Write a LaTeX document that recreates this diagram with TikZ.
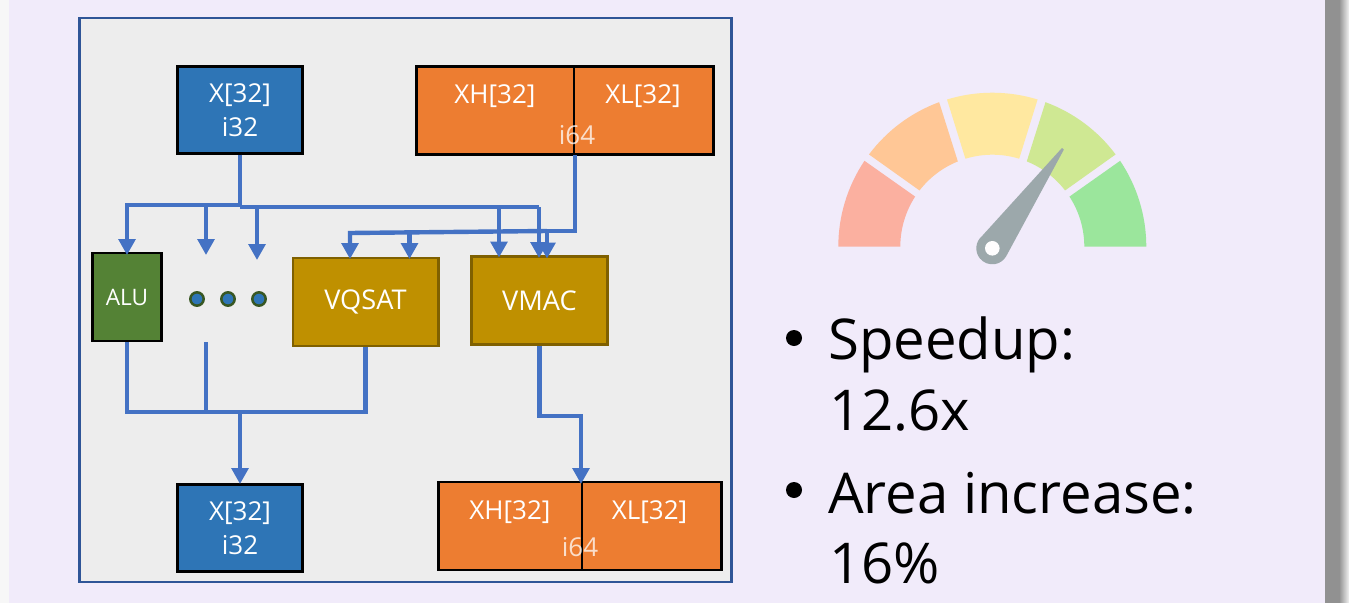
\documentclass[tikz,border=0pt]{standalone}
\usepackage{fontspec}
\setmainfont{Open Sans}
\usetikzlibrary{arrows.meta,calc}
\definecolor{bgc}{HTML}{F1EBFA}
\definecolor{panelc}{HTML}{EDEDED}
\definecolor{panelb}{HTML}{2F5597}
\definecolor{wire}{HTML}{4472C4}
\definecolor{bluec}{HTML}{2E75B6}
\definecolor{orangec}{HTML}{ED7D31}
\definecolor{greenc}{HTML}{548235}
\definecolor{dotb}{HTML}{385723}
\definecolor{goldc}{HTML}{BF9000}
\definecolor{goldb}{HTML}{7F6000}
\definecolor{segr}{HTML}{FBB0A0}
\definecolor{sego}{HTML}{FFC796}
\definecolor{segy}{HTML}{FFE8A0}
\definecolor{segl}{HTML}{CFE893}
\definecolor{segg}{HTML}{9BE69C}
\definecolor{needlec}{HTML}{9CA8AB}
\tikzset{
 box/.style={draw=black,line width=2pt,minimum width=#1,inner sep=0pt,align=center,text=white,font=\fontsize{19.5}{25.5}\selectfont},
 lab/.style={text=white,inner sep=0pt,font=\fontsize{19.5}{25.5}\selectfont},
 wirel/.style={draw=wire,line width=3.3pt},
 wirea/.style={wirel,-{Triangle[length=12pt,width=12.5pt]}},
 big/.style={anchor=west,inner sep=0pt,font=\fontsize{42.2}{52}\selectfont}
}
\newcommand{\gseg}[5]{\fill[#1] (#2:154) arc[start angle=#2,end angle=#3,radius=154] -- (#4:92) arc[start angle=#4,end angle=#5,radius=92] -- cycle;}
\newcommand{\low}[1]{\raisebox{-1.5pt}{#1}}
\newcommand{\lowb}[1]{\raisebox{-2.6pt}{#1}}
\begin{document}
\begin{tikzpicture}[x=0.75pt,y=-0.75pt]
\useasboundingbox (0,0) rectangle (1349,603);
\fill[white!97!black] (0,0) rectangle (1349,603);
\fill[bgc] (9,0) rectangle (1325,603);
\fill[black!43] (1325,0) rectangle (1339,603);
\shade[left color=black!43,right color=black!5] (1339,0) rectangle (1349,603);
\node[draw=panelb,line width=2.1pt,fill=panelc,minimum width=489pt,minimum height=423pt,inner sep=0pt] (panel) at (405.5,300) {};
% boxes
\node[box=94pt,fill=bluec,minimum height=65pt] (xa) at (240,110) {\low{X[32]}\\\low{i32}};
\node[box=223pt,fill=orangec,minimum height=66pt] (xb) at (565,110.5) {};
\draw[black,line width=2pt] (574,66) coordinate (d1) -- (xb.south -| d1);
\node[lab] (xh) at (495,96.5) {XH[32]};
\node[lab] (xl) at (643,96.5) {XL[32]};
\node[lab,opacity=.75] (i1) at (577,135) {i64};
\node[box=52pt,fill=greenc,minimum height=66pt,font=\fontsize{17}{20}\selectfont] (alu) at (127,297) {\lowb{ALU}};
\node[box=109pt,fill=goldc,draw=goldb,minimum height=66pt,font=\fontsize{20.4}{24}\selectfont] (vq) at (365.5,302) {\lowb{VQSAT}};
\node[box=102pt,fill=goldc,draw=goldb,minimum height=66pt,font=\fontsize{20.4}{24}\selectfont] (vm) at (539.5,300.5) {\low{VMAC}};
\node[box=94pt,fill=bluec,minimum height=65pt] (xc) at (240,528) {\low{X[32]}\\\low{i32}};
\node[box=212pt,fill=orangec,minimum height=66pt] (xd) at (580,526) {};
\draw[black,line width=2pt] (582,482) coordinate (d2) -- (xd.south -| d2);
\node[lab] (xh2) at (510,512) {XH[32]};
\node[lab] (xl2) at (649.5,512) {XL[32]};
\node[lab,opacity=.75] (i2) at (580,547) {i64};
% dots
\foreach \n/\x in {a/197,b/228,c/259}
  \node[circle,draw=dotb,line width=1.9pt,fill=bluec,minimum size=10pt,inner sep=0pt] (dot\n) at (\x,299) {};
% connectors top
\coordinate (s1) at (240,205);
\coordinate (s2) at (240,207);
\coordinate (e1) at (127,255);
\coordinate (e2) at (206,255);
\coordinate (e3) at (257,260);
\draw[wirel] (xa.south) -- (s2);
\draw[wirea] (s1) -| (e1);
\draw[wirea] (206,205) coordinate (b2) -- (e2);
\draw[wirel] (s2) -- (539,207) coordinate (r1);
\draw[wirea] (257,207) coordinate (b3) -- (e3);
\draw[wirea] (499,207) coordinate (b4) -- (499,257.5) coordinate (e4);
\draw[wirea] (r1) -- (539,258) coordinate (e5);
% XL line
\coordinate (t1) at (575,155);
\draw[wirel] (t1) -- (575,231) -- (547,231) coordinate (k1);
\draw[wirea] (k1) -- (547,258.5);
\draw[wirea] (k1) -- (350,233) -- (350,259);
\draw[wirea] (409.5,232.5) -- (409.5,259);
% bottom
\coordinate (j1) at (206,412);
\coordinate (j2) at (240,412);
\draw[wirel] (alu.south) |- (j1) -- (j2) -| (vq.south);
\draw[wirel] (206,342) coordinate (c1) -- (j1);
\draw[wirea] (j2) -- (240,484) coordinate (e8);
\coordinate (h1) at (581,416);
\draw[wirea] (vm.south) |- (h1) -- (581,484) coordinate (e9);
% bullets
\node[big] (t1a) at (828,344.5) {Speedup:};
\node[big] (t1b) at (829,411) {12.6x};
\node[big] (t2a) at (828,493) {Area increase:};
\node[big] (t2b) at (829,563.5) {16\%};
\fill[black] (794,338) circle (8);
\fill[black] (794,490) circle (8);
% gauge
\begin{scope}[shift={(992.3,246.7)},y=0.75pt]
 \gseg{segr}{180}{146.1}{147}{180}
 \gseg{sego}{143.2}{110.2}{112}{142.3}
 \gseg{segy}{107.1}{72.9}{73}{107}
 \gseg{segl}{69.8}{36.8}{37.7}{68}
 \gseg{segg}{33.9}{0}{0}{33}
 \fill[needlec] (71.5,97) arc[start angle=0,end angle=120,radius=1.5] -- ({16*cos(130)},{-1.6+16*sin(130)}) arc[start angle=130,end angle=330,radius=16] -- cycle;
 \fill[white!90!bgc] (0,-1.6) circle (7.3);
\end{scope}
\end{tikzpicture}
\end{document}
